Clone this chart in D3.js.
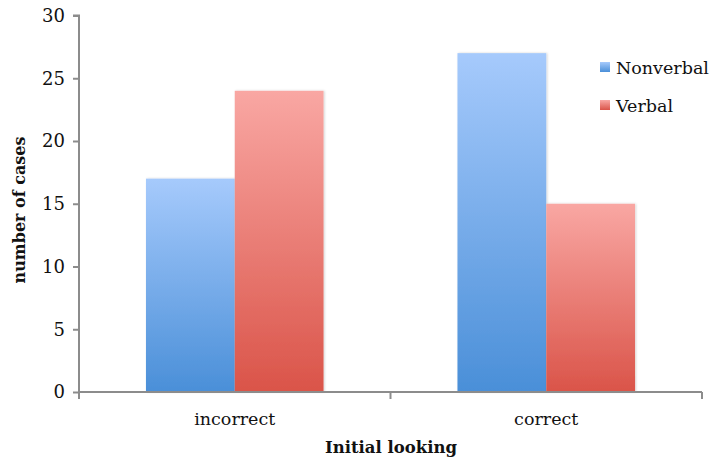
<!DOCTYPE html>
<html>
<head>
<meta charset="utf-8">
<script src="https://cdn.jsdelivr.net/npm/d3@7"></script>
<style>
  body { margin: 0; background: #fff; }
  text { font-family: "DejaVu Serif", "Liberation Serif", serif; fill: #111; }
</style>
</head>
<body>
<script>
// data
var categories = ["incorrect", "correct"];
var seriesNames = ["Nonverbal", "Verbal"];
var nonverbal = [17, 27];
var verbal = [24, 15];
var yTicks = [0, 5, 10, 15, 20, 25, 30];

var w = 713, h = 461;
var mLeft = 79, mRight = 702, mTop = 15.5, mBottom = 392;

var svg = d3.select("body").append("svg")
    .attr("width", w)
    .attr("height", h);

var defs = svg.append("defs");
var grads = [["#a6cafc", "#4a8fd8"], ["#f9a7a3", "#da5449"]];
grads.forEach(function(g, i) {
  var lg = defs.append("linearGradient")
      .attr("id", "g" + i)
      .attr("x1", 0).attr("y1", 0).attr("x2", 0).attr("y2", 1);
  lg.append("stop").attr("offset", "0%").attr("stop-color", g[0]);
  lg.append("stop").attr("offset", "100%").attr("stop-color", g[1]);
});
// soft shadow like the original
var f = defs.append("filter").attr("id", "sh").attr("x", "-10%").attr("width", "120%");
f.append("feDropShadow").attr("dx", 1).attr("dy", 0).attr("stdDeviation", 1.2)
    .attr("flood-color", "#000").attr("flood-opacity", 0.18);

var x = d3.scaleBand().domain(categories).range([mLeft, mRight])
    .paddingInner(0.43).paddingOuter(0.215);
var xs = d3.scaleBand().domain(seriesNames).range([0, x.bandwidth()]);
var y = d3.scaleLinear().domain([0, 30]).range([mBottom, mTop]);

var rows = categories.map(function(c, i) {
  return { cat: c, vals: [nonverbal[i], verbal[i]] };
});

var g = svg.selectAll("g.cat")
    .data(rows)
  .enter().append("g")
    .attr("class", "cat")
    .attr("transform", function(d) { return "translate(" + x(d.cat) + ",0)"; });

g.selectAll("rect")
    .data(function(d) { return d.vals.map(function(v, i) { return { s: seriesNames[i], v: v, i: i }; }); })
  .enter().append("rect")
    .attr("x", function(d) { return xs(d.s); })
    .attr("y", function(d) { return y(d.v); })
    .attr("width", xs.bandwidth())
    .attr("height", function(d) { return y(0) - y(d.v); })
    .attr("filter", "url(#sh)")
    .style("fill", function(d) { return "url(#g" + d.i + ")"; });

// y axis
var yAxis = svg.append("g")
    .attr("transform", "translate(" + mLeft + ",0)")
    .call(d3.axisLeft(y).tickValues(yTicks).tickSize(6).tickPadding(8));
yAxis.selectAll("path, line").attr("stroke", "#8c8c8c").attr("stroke-width", 2);
yAxis.select(".domain").attr("d", "M-6," + mTop + "H0V" + mBottom);
yAxis.selectAll("text").style("font-size", "18px").attr("fill", "#111");

// x axis
var edges = [mLeft, (mLeft + mRight) / 2, mRight];
svg.append("line")
    .attr("x1", mLeft).attr("x2", mRight).attr("y1", mBottom).attr("y2", mBottom)
    .attr("stroke", "#8c8c8c").attr("stroke-width", 2);
svg.selectAll("line.xt")
    .data(edges)
  .enter().append("line")
    .attr("class", "xt")
    .attr("x1", function(d) { return d; }).attr("x2", function(d) { return d; })
    .attr("y1", mBottom).attr("y2", mBottom + 7)
    .attr("stroke", "#8c8c8c").attr("stroke-width", 2);

svg.selectAll("text.cl")
    .data(categories)
  .enter().append("text")
    .attr("class", "cl")
    .attr("x", function(d) { return x(d) + x.bandwidth() / 2; })
    .attr("y", 425)
    .attr("text-anchor", "middle")
    .style("font-size", "17.5px")
    .text(function(d) { return d; });

svg.append("text")
    .attr("x", 391).attr("y", 453)
    .attr("text-anchor", "middle")
    .style("font-size", "16.5px")
    .style("font-weight", "bold")
    .text("Initial looking");

svg.append("text")
    .attr("transform", "translate(25,210) rotate(-90)")
    .attr("text-anchor", "middle")
    .style("font-size", "16px")
    .style("font-weight", "bold")
    .text("number of cases");

// legend
var leg = svg.selectAll("g.leg")
    .data(seriesNames)
  .enter().append("g")
    .attr("class", "leg")
    .attr("transform", function(d, i) { return "translate(600," + (62 + i * 38) + ")"; });
leg.append("rect")
    .attr("width", 10).attr("height", 10)
    .style("fill", function(d, i) { return "url(#g" + i + ")"; });
leg.append("text")
    .attr("x", 16).attr("y", 11.5)
    .style("font-size", "17.5px")
    .text(function(d) { return d; });
</script>
</body>
</html>
